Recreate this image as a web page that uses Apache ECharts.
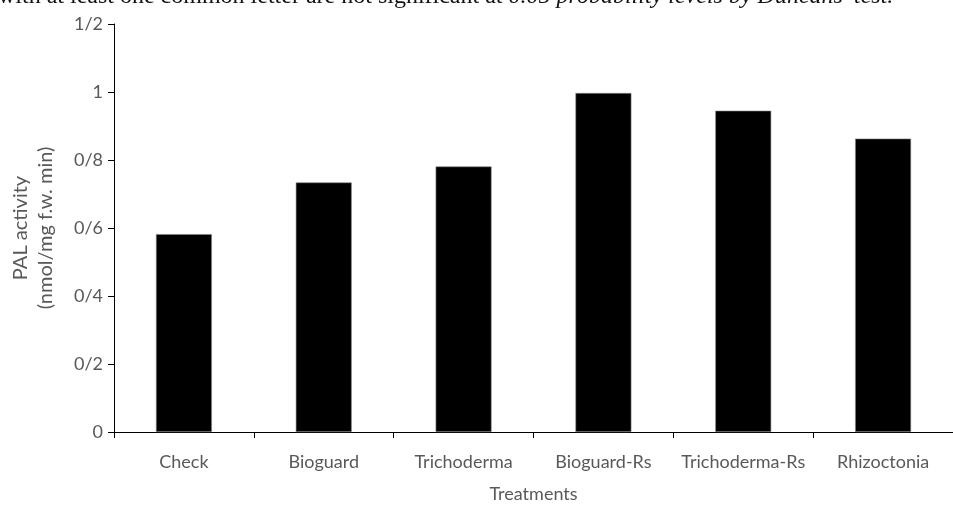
<!DOCTYPE html>
<html>
<head>
<meta charset="utf-8">
<script src="https://cdn.jsdelivr.net/npm/echarts@6/dist/echarts.min.js"></script>
<style>
html,body{margin:0;padding:0;background:#fff;}
#chart{width:953px;height:508px;}
</style>
</head>
<body>
<div id="chart"></div>
<script>
const categories = ['Check', 'Bioguard', 'Trichoderma', 'Bioguard-Rs', 'Trichoderma-Rs', 'Rhizoctonia'];
const palActivity = [0.582, 0.734, 0.781, 0.997, 0.945, 0.863];
const yTickValues = [0, 0.2, 0.4, 0.6, 0.8, 1, 1.2];
const yTickLabels = ['0', '0/2', '0/4', '0/6', '0/8', '1', '1/2'];
const xAxisTitle = 'Treatments';
const yAxisTitle = 'PAL activity\n(nmol/mg f.w. min)';
const noteRegular = 'with at least one common letter are not significant at ';
const noteItalic = "0.05 probability levels by Duncans' test.";

const chart = echarts.init(document.getElementById('chart'), null, {renderer: 'canvas'});
const labelFont = 'Lato, "Open Sans", sans-serif';
const grey = '#595959';

chart.setOption({
  animation: false,
  backgroundColor: '#fff',
  grid: {left: 111, top: 24, width: 852, height: 416, containLabel: false},
  graphic: [
    {
      type: 'text', left: -2, top: -15,
      style: {
        text: '{n|' + noteRegular + '}{i|' + noteItalic + '}',
        rich: {
          n: {fontFamily: '"Liberation Serif", serif', fontSize: 24, fill: '#111'},
          i: {fontFamily: '"Liberation Serif", serif', fontSize: 24, fontStyle: 'italic', fill: '#111'}
        }
      }
    }
  ],
  xAxis: {
    type: 'category',
    data: categories,
    name: xAxisTitle,
    nameLocation: 'middle',
    nameGap: 53,
    nameTextStyle: {color: grey, fontSize: 18, fontFamily: labelFont},
    axisLine: {lineStyle: {color: '#000', width: 1}},
    axisTick: {show: true, length: 6, inside: false, interval: 0, lineStyle: {color: '#000'}},
    axisLabel: {color: grey, fontSize: 18, fontFamily: labelFont, margin: 21, interval: 0, hideOverlap: false},
    splitLine: {show: false}
  },
  yAxis: {
    type: 'value',
    min: 0, max: 1.2, interval: 0.2,
    name: yAxisTitle,
    nameLocation: 'middle',
    nameGap: 56,
    nameRotate: 90,
    nameTextStyle: {color: grey, fontSize: 20, fontFamily: labelFont, lineHeight: 25, align: 'center'},
    axisLine: {show: true, lineStyle: {color: '#000', width: 1}},
    axisTick: {show: true, length: 6, lineStyle: {color: '#000'}},
    axisLabel: {
      color: grey, fontSize: 18, fontFamily: labelFont, margin: 11,
      formatter: function (v) {
        const idx = yTickValues.findIndex(t => Math.abs(t - v) < 1e-9);
        return idx >= 0 ? yTickLabels[idx] : '';
      }
    },
    splitLine: {show: false}
  },
  series: [{
    type: 'bar',
    data: palActivity,
    barWidth: '40%',
    itemStyle: {color: '#000', borderColor: '#8a8a8a', borderWidth: 0.6}
  }]
});
</script>
</body>
</html>
